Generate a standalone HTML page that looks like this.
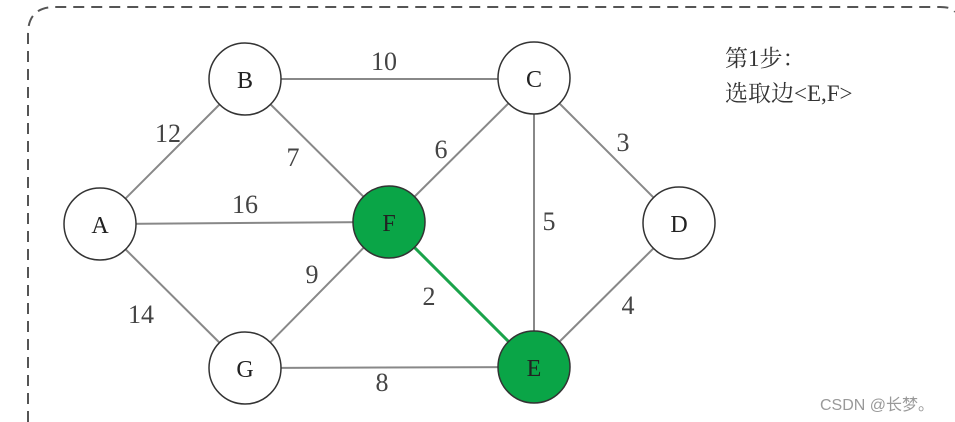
<!DOCTYPE html>
<html><head><meta charset="utf-8"><style>
html,body{margin:0;padding:0;background:#fff;width:955px;height:422px;overflow:hidden}
</style></head><body>
<svg width="955" height="422" xmlns="http://www.w3.org/2000/svg">
<path d="M28,422 L28,34 Q28,7 55,7 L940,7 Q952,7 955,12" fill="none" stroke="#555" stroke-width="2" stroke-dasharray="11,7"/>
<g stroke="#888" stroke-width="2" fill="none">
<line x1="245" y1="79" x2="534" y2="79"/>
<line x1="100" y1="224" x2="245" y2="79"/>
<line x1="245" y1="79" x2="389" y2="222"/>
<line x1="100" y1="224" x2="389" y2="222"/>
<line x1="389" y1="222" x2="534" y2="78"/>
<line x1="534" y1="78" x2="534" y2="367"/>
<line x1="534" y1="78" x2="679" y2="223"/>
<line x1="679" y1="223" x2="534" y2="367"/>
<line x1="100" y1="224" x2="245" y2="368"/>
<line x1="245" y1="368" x2="389" y2="222"/>
<line x1="245" y1="368" x2="534" y2="367"/>
</g>
<line x1="389" y1="222" x2="534" y2="367" stroke="#1aa34a" stroke-width="3"/>
<g stroke="#333" stroke-width="1.5">
<circle cx="245" cy="79" r="36" fill="#fff"/>
<circle cx="534" cy="78" r="36" fill="#fff"/>
<circle cx="100" cy="224" r="36" fill="#fff"/>
<circle cx="679" cy="223" r="36" fill="#fff"/>
<circle cx="245" cy="368" r="36" fill="#fff"/>
<circle cx="389" cy="222" r="36" fill="#0aa547"/>
<circle cx="534" cy="367" r="36" fill="#0aa547"/>
</g>
<g font-family="Liberation Serif, serif" font-size="24" fill="#222" text-anchor="middle">
<text x="245" y="88">B</text><text x="534" y="87">C</text><text x="100" y="233">A</text>
<text x="679" y="232">D</text><text x="245" y="377">G</text><text x="389" y="231">F</text><text x="534" y="376">E</text>
</g>
<g font-family="Liberation Serif, serif" font-size="26" fill="#444" text-anchor="middle">
<text x="384" y="70">10</text><text x="168" y="142">12</text><text x="293" y="166">7</text>
<text x="245" y="213">16</text><text x="441" y="158">6</text><text x="623" y="151">3</text>
<text x="549" y="230">5</text><text x="312" y="283">9</text><text x="141" y="323">14</text>
<text x="429" y="305">2</text><text x="628" y="314">4</text><text x="382" y="391">8</text>
</g>
<g font-family="Liberation Serif, 'Noto Serif CJK SC', serif" font-size="23" fill="#333">
<text x="725" y="66">第1步：</text><text x="725" y="101">选取边&lt;E,F&gt;</text>
</g>
<text x="820" y="410" font-family="Liberation Sans, 'Noto Sans CJK SC', sans-serif" font-size="16" fill="#999">CSDN @长梦。</text>
</svg>
</body></html>
